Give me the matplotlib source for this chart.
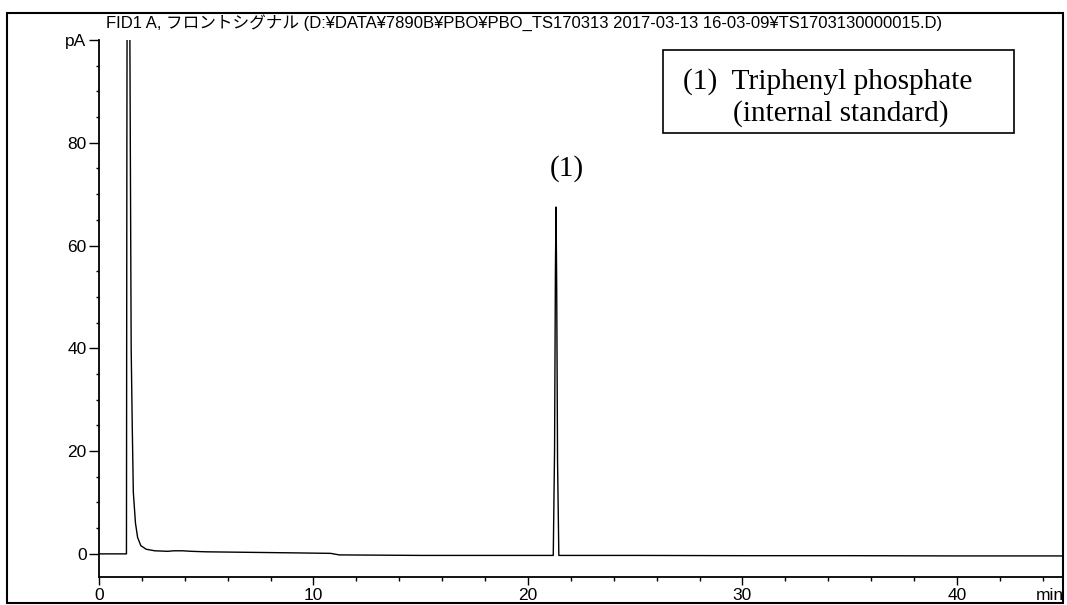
import matplotlib
matplotlib.use("Agg")
import matplotlib.pyplot as plt
from matplotlib import font_manager
from matplotlib.patches import Rectangle
from matplotlib.ticker import MultipleLocator

# ---------------- data ----------------
title_text = "FID1 A, フロントシグナル (D:¥DATA¥7890B¥PBO¥PBO_TS170313 2017-03-13 16-03-09¥TS1703130000015.D)"
time_min = [0.0, 1.28, 1.30, 1.33, 1.36, 1.40, 1.43, 1.50, 1.55, 1.60, 1.70, 1.80,
            1.95, 2.20, 2.60, 3.20, 3.50, 3.90, 4.30, 5.00, 7.00, 9.00, 10.80,
            11.20, 15.00, 20.00, 21.18, 21.24, 21.28, 21.31, 21.34, 21.38, 21.44,
            25.00, 30.00, 35.00, 40.00, 44.90]
signal_pA = [0.0, 0.0, 80.0, 160.0, 170.0, 160.0, 110.0, 40.0, 25.0, 12.0, 6.0, 3.2,
             1.6, 0.9, 0.6, 0.5, 0.6, 0.6, 0.5, 0.4, 0.3, 0.2, 0.1,
             -0.2, -0.3, -0.3, -0.3, 20.0, 55.0, 67.5, 52.0, 18.0, -0.3,
             -0.3, -0.35, -0.35, -0.4, -0.4]
peak_label = "(1)"
peak_label_pos = (21.8, 75.0)
legend_lines = ["(1)  Triphenyl phosphate", "(internal standard)"]
y_major = [0, 20, 40, 60, 80, 100]
y_labels = ["0", "20", "40", "60", "80", "pA"]
x_major = [0, 10, 20, 30, 40]
x_labels = ["0", "10", "20", "30", "40"]

# ---------------- fonts ----------------
avail = {f.name for f in font_manager.fontManager.ttflist}
sans = "Liberation Sans Narrow" if "Liberation Sans Narrow" in avail else "Liberation Sans"
sans_fam = [sans, "Noto Sans CJK JP", "DejaVu Sans"]
serif_fam = ["Liberation Serif", "DejaVu Serif"]

W, H = 1067, 605
fig = plt.figure(figsize=(W / 100, H / 100), dpi=100)
fig.patch.set_facecolor("white")

def fx(px):
    return px / W

def fy(py):
    return 1 - py / H

ax_l, ax_r, ax_t, ax_b = 99, 1062, 40, 577
ax = fig.add_axes([fx(ax_l), fy(ax_b), fx(ax_r - ax_l), (ax_b - ax_t) / H])
ax.plot(time_min, signal_pA, color="black", lw=1.0)
ax.set_xlim(0, 44.9)
ax.set_ylim(-4.5, 100)

for s in ("top", "right"):
    ax.spines[s].set_visible(False)
for s in ("left", "bottom"):
    ax.spines[s].set_linewidth(1.3)

ax.set_yticks(y_major)
ax.set_yticklabels(y_labels, family=sans_fam, fontsize=12.5)
ax.set_xticks(x_major)
ax.set_xticklabels(x_labels, family=sans_fam, fontsize=12.5)
ax.yaxis.set_minor_locator(MultipleLocator(5))
ax.xaxis.set_minor_locator(MultipleLocator(2))
ax.tick_params(axis="y", which="major", direction="out", length=7.5, width=1.0, pad=1.5)
ax.tick_params(axis="y", which="minor", direction="out", length=2.5, width=1.0)
ax.tick_params(axis="x", which="major", direction="out", length=5.5, width=1.0, pad=2.5)
ax.tick_params(axis="x", which="minor", direction="out", length=3, width=1.0)

# peak label
ax.text(peak_label_pos[0], peak_label_pos[1], peak_label, family=serif_fam,
        fontsize=21, ha="center", va="center")

# title
fig.text(fx(524), fy(23), title_text, family=sans_fam, fontsize=12.0,
         ha="center", va="center")

# min label
fig.text(fx(1036), fy(596), "min", family=sans_fam, fontsize=12.5,
         ha="left", va="center")

# legend box
fig.add_artist(Rectangle((fx(663), fy(133)), fx(1014 - 663), (133 - 50) / H,
                         transform=fig.transFigure, fill=False, ec="black", lw=1.2))
fig.text(fx(683), fy(82), legend_lines[0], family=serif_fam, fontsize=21.2,
         ha="left", va="center")
fig.text(fx(733), fy(114), legend_lines[1], family=serif_fam, fontsize=21.2,
         ha="left", va="center")

# outer frame
fig.add_artist(Rectangle((fx(7), fy(603)), fx(1063 - 7), (603 - 13) / H,
                         transform=fig.transFigure, fill=False, ec="black", lw=1.5))

fig.savefig("out.png", dpi=100)
